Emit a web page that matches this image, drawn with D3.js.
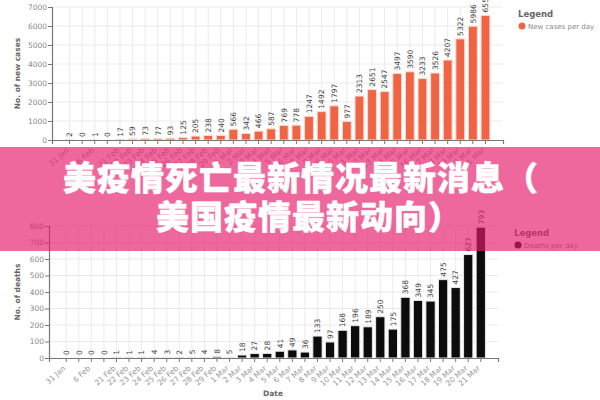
<!DOCTYPE html>
<html><head><meta charset="utf-8">
<script src="https://cdn.jsdelivr.net/npm/d3@7"></script>
<style>
body{margin:0;background:#fff;}
svg{display:block;font-family:"DejaVu Sans",sans-serif;}
</style>
</head><body>
<svg id="c" width="600" height="400"></svg>
<script>
const dates = ["31 Jan","","6 Feb","","21 Feb","22 Feb","23 Feb","24 Feb","25 Feb","26 Feb","27 Feb","28 Feb","29 Feb",
  "1 Mar","2 Mar","3 Mar","4 Mar","5 Mar","6 Mar","7 Mar","8 Mar","9 Mar","10 Mar","11 Mar","12 Mar","13 Mar",
  "14 Mar","15 Mar","16 Mar","17 Mar","18 Mar","19 Mar","20 Mar","21 Mar"];
const newCases = [2,0,1,0,17,59,73,77,93,125,205,238,240,566,342,466,587,769,778,1247,1492,1797,977,2313,2651,2547,
  3497,3590,3233,3526,4207,5322,5986,6557];
const deaths = [0,0,0,0,1,1,1,4,3,2,5,4,8,5,18,27,28,41,49,36,133,97,168,196,189,250,175,368,349,345,475,427,627,793];
const caseTicks = [0,1000,2000,3000,4000,5000,6000,7000];
const deathTicks = [0,100,200,300,400,500,600,700,800];
const legendTitle = "Legend";
const caseLegend = "New cases per day";
const deathLegend = "Deaths per day";
const caseAxisTitle = "No. of new cases";
const deathAxisTitle = "No. of deaths";
const xAxisTitle = "Date";
const bannerLine1 = "美疫情死亡最新情况最新消息（";
const bannerLine2 = "美国疫情最新动向）";

const svg = d3.select("#c");
const idx = d3.range(dates.length);

function drawChart(o) {
  const g = svg.append("g");
  const x = d3.scaleBand().domain(idx).range([o.x0, o.x1]).paddingInner(o.pi).paddingOuter(o.po);
  const y = d3.scaleLinear().domain([0, d3.max(o.ticks)]).range([o.y0, o.y1]);
  const cx = i => x(i) + x.bandwidth() / 2;

  // grid
  g.append("g").selectAll("line").data(idx).join("line")
    .attr("x1", cx).attr("x2", cx).attr("y1", o.y1).attr("y2", o.y0)
    .attr("stroke", "#ebebeb").attr("stroke-width", 1);
  g.append("g").selectAll("line").data(o.ticks.slice(1)).join("line")
    .attr("x1", o.x0).attr("x2", o.x1).attr("y1", d => y(d)).attr("y2", d => y(d))
    .attr("stroke", "#ebebeb").attr("stroke-width", 1);

  // bars
  g.append("g").selectAll("rect").data(o.values).join("rect")
    .attr("x", (d, i) => x(i)).attr("width", x.bandwidth())
    .attr("y", d => y(d)).attr("height", d => o.y0 - y(d))
    .attr("fill", o.color).attr("stroke", o.stroke).attr("stroke-width", 1);

  // value labels
  g.append("g").selectAll("text").data(o.values).join("text")
    .attr("transform", (d, i) => `translate(${cx(i) + 2.8},${y(d) - 3}) rotate(-90)`)
    .attr("font-size", 7.5).attr("fill", "#444").text(d => d);

  // x axis
  const xa = g.append("g").attr("transform", `translate(0,${o.y0})`)
    .call(d3.axisBottom(x).tickSize(4).tickSizeOuter(4).tickFormat(i => dates[i]));
  xa.select(".domain").attr("stroke", "#777").attr("stroke-width", 1.2);
  xa.selectAll(".tick line").attr("stroke", "#777");
  xa.selectAll(".tick text")
    .attr("x", 0).attr("y", 0).attr("dy", "0.35em")
    .attr("transform", "translate(-2,9) rotate(-42)")
    .style("text-anchor", "end").attr("font-size", 7.5).attr("fill", "#999")
    .attr("font-family", "DejaVu Sans");

  // y axis
  const ya = g.append("g").attr("transform", `translate(${o.x0},0)`)
    .call(d3.axisLeft(y).tickValues(o.ticks).tickFormat(d3.format("d")).tickSize(4).tickSizeOuter(4));
  ya.select(".domain").attr("stroke", "#777").attr("stroke-width", 1.2);
  ya.selectAll(".tick line").attr("stroke", "#777");
  ya.selectAll(".tick text").attr("font-size", 7.5).attr("fill", "#888").attr("font-family", "DejaVu Sans").attr("x", -5);

  // axis titles
  g.append("text").attr("transform", `translate(${o.yTitleX},${(o.y0 + o.y1) / 2}) rotate(-90)`)
    .attr("text-anchor", "middle").attr("font-size", 7.5).attr("font-weight", "bold").attr("fill", "#666")
    .text(o.yTitle);
  if (o.showDate) {
    g.append("text").attr("x", o.dateX).attr("y", o.dateY).attr("text-anchor", "middle")
      .attr("font-size", 7.5).attr("font-weight", "bold").attr("fill", "#666").text(xAxisTitle);
  }

  // legend
  g.append("text").attr("x", o.lx).attr("y", o.ly).attr("font-size", 8.5).attr("font-weight", "bold")
    .attr("fill", "#666").text(legendTitle);
  g.append("circle").attr("cx", o.lx + 4).attr("cy", o.ly + 9).attr("r", 3.5).attr("fill", o.legendColor);
  g.append("text").attr("x", o.lx + 10).attr("y", o.ly + 11.5).attr("font-size", 7).attr("fill", "#888").text(o.legendText);
}

drawChart({
  values: newCases, ticks: caseTicks, color: "#ef6445", stroke: "#fcd9cf", legendColor: "#ef6445",
  x0: 52, x1: 503, pi: 0.3, po: 1.04, y0: 140, y1: 7,
  yTitle: caseAxisTitle, yTitleX: 20, showDate: false,
  lx: 518, ly: 17, legendText: caseLegend
});
drawChart({
  values: deaths, ticks: deathTicks, color: "#0c0c0c", stroke: "#e8e8e8", legendColor: "#0c0c0c",
  x0: 49, x1: 498, pi: 0.26, po: 1.0, y0: 358, y1: 226,
  yTitle: deathAxisTitle, yTitleX: 20, showDate: true, dateX: 273, dateY: 396,
  lx: 514, ly: 236, legendText: deathLegend
});

// banner overlay
svg.append("rect").attr("x", 0).attr("y", 147).attr("width", 600).attr("height", 104)
  .attr("fill", "rgb(230,26,106)").attr("fill-opacity", 0.66);
const bt = svg.append("g").attr("font-family", "'Noto Sans CJK SC','Noto Sans CJK JP',sans-serif")
  .attr("font-weight", 900).attr("font-size", 33).attr("fill", "#fff")
  .attr("stroke", "#fff").attr("stroke-width", 0.5).attr("stroke-linejoin", "round")
  .attr("letter-spacing", 1).attr("text-anchor", "middle");
bt.append("text").attr("x", 301).attr("y", 190).text(bannerLine1);
bt.append("text").attr("x", 309).attr("y", 229).text(bannerLine2);
</script>
</body></html>
